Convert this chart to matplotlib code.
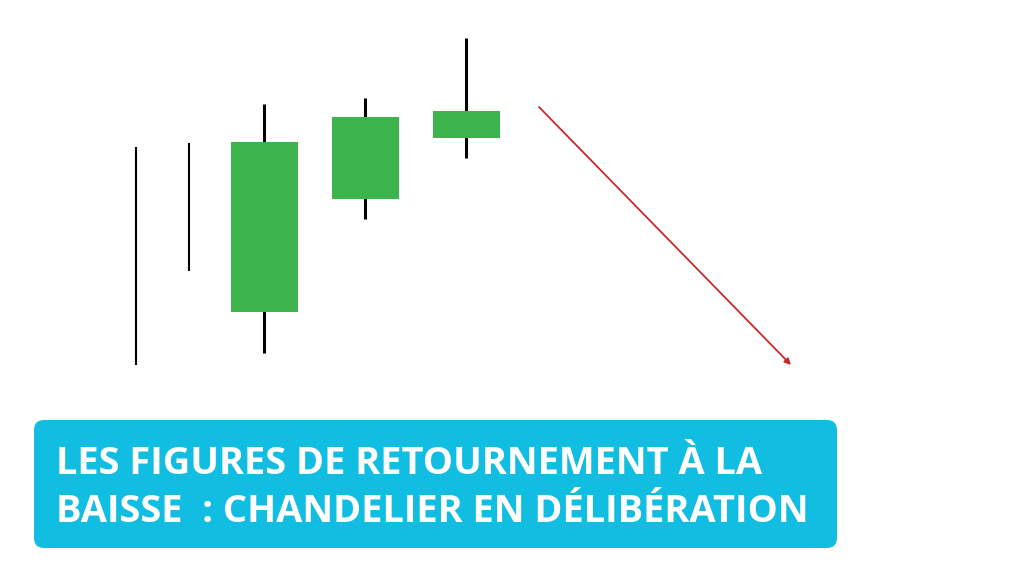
#!/usr/bin/env python3

import matplotlib
matplotlib.use('Agg')
import matplotlib.pyplot as plt
from matplotlib.patches import FancyBboxPatch

# candles (price units, higher = up); first two are wick only
X      = [136, 189, 264, 365, 466]
HIGHS  = [429, 433, 472, 478, 538]
LOWS   = [211, 305, 223, 357, 418]
OPENS  = [None, None, 264, 377, 438]
CLOSES = [None, None, 434, 459, 465]

# downward arrow (start -> end)
ARROW_START = (539, 469)
ARROW_END   = (791, 211)

TITLE_LINES = ['LES FIGURES DE RETOURNEMENT À LA',
               'BAISSE  : CHANDELIER EN DÉLIBÉRATION']

GREEN = '#3cb44b'
CYAN = '#11bde0'
RED = '#c9282e'


def main():
    fig = plt.figure(figsize=(10.24, 5.76), dpi=100)
    ax = fig.add_axes([0, 0, 1, 1])
    ax.set_xlim(0, 1024)
    ax.set_ylim(0, 576)
    ax.axis('off')

    for i, x in enumerate(X):
        lw = 2.2 if OPENS[i] is not None else 1.5
        ax.vlines(x, LOWS[i], HIGHS[i], color='black', lw=lw, zorder=1)
        if OPENS[i] is not None:
            ax.bar(x, CLOSES[i] - OPENS[i], bottom=OPENS[i], width=67,
                   color=GREEN, zorder=2)

    ax.annotate('', xy=ARROW_END, xytext=ARROW_START,
                arrowprops=dict(arrowstyle='-|>', color=RED, lw=1.3,
                                mutation_scale=9, shrinkA=0, shrinkB=0))

    box = FancyBboxPatch((34, 28), 803, 128,
                         boxstyle='round,pad=0,rounding_size=10',
                         fc=CYAN, ec='none', zorder=3)
    ax.add_patch(box)
    for line, y in zip(TITLE_LINES, [102, 54]):
        ax.text(56, y, line, color='white', fontsize=27.4,
                family='Open Sans', weight='bold', va='baseline', zorder=4)

    fig.savefig('out.png', dpi=100)


if __name__ == "__main__":
    main()
